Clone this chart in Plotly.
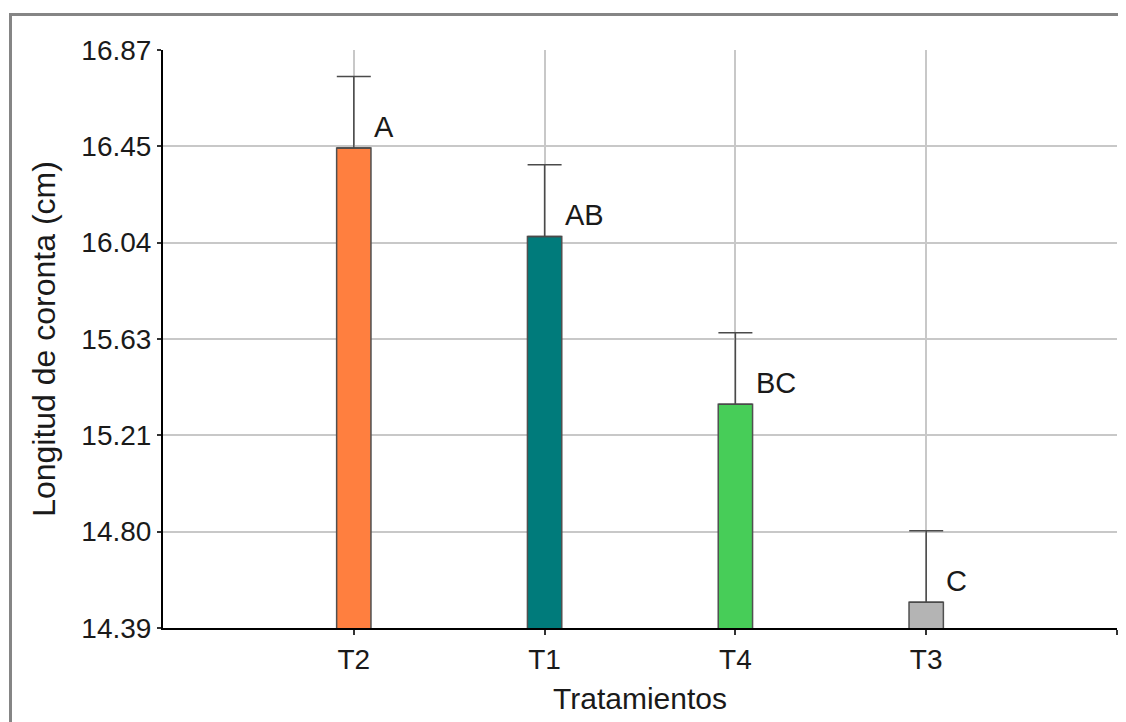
import plotly.graph_objects as go

categories = ["T2", "T1", "T4", "T3"]
means = [16.45, 16.07, 15.35, 14.50]
errors = [0.306, 0.308, 0.307, 0.307]
letters = ["A", "AB", "BC", "C"]
colors = ["#FF7F3F", "#007B7B", "#47CD58", "#B4B4B4"]
y_tick_labels = ["14.39", "14.80", "15.21", "15.63", "16.04", "16.45", "16.87"]
y_min, y_max = 14.39, 16.87

FONT = "Liberation Sans, Arial, sans-serif"
bar_w = 0.18

positions = list(range(1, len(categories) + 1))
n_ticks = len(y_tick_labels)
y_tickvals = [y_min + i * (y_max - y_min) / (n_ticks - 1) for i in range(n_ticks)]

# page body has an 8px margin; plot area should land at x 163..1117, y 50..628
PW, PH = 954, 578

fig = go.Figure()
fig.add_trace(go.Bar(
    x=positions, y=means, width=bar_w,
    marker=dict(color=colors, line=dict(color="#505050", width=1.5)),
    error_y=dict(type="data", array=errors, arrayminus=[0] * len(errors),
                 symmetric=False, color="#4a4a4a", thickness=1.5, width=17),
    showlegend=False,
))

for p, m, l in zip(positions, means, letters):
    fig.add_annotation(x=p + bar_w / 2, y=m, text=l, showarrow=False,
                       xanchor="left", yanchor="middle", xshift=1, yshift=21,
                       font=dict(family=FONT, size=29, color="#1a1a1a"))

fig.update_layout(
    width=1118, height=714,
    paper_bgcolor="white", plot_bgcolor="white",
    margin=dict(l=155, r=9, t=42, b=94),
    font=dict(family=FONT, size=28, color="#1a1a1a"),
    xaxis=dict(
        range=[0, len(categories) + 1],
        tickvals=positions + [len(categories) + 1],
        ticktext=categories + [""],
        showgrid=True, gridcolor="#c8c8c8", gridwidth=2,
        showline=True, linecolor="black", linewidth=2,
        ticks="outside", ticklen=5, tickwidth=2, tickcolor="#333",
        zeroline=False,
        title=dict(text="Tratamientos", font=dict(size=30), standoff=14),
    ),
    yaxis=dict(
        range=[y_min, y_max],
        tickvals=y_tickvals, ticktext=y_tick_labels,
        showgrid=True, gridcolor="#c8c8c8", gridwidth=2,
        showline=True, linecolor="black", linewidth=2,
        ticks="outside", ticklen=4, tickwidth=2, tickcolor="#333",
        zeroline=False,
        title=dict(text="Longitud de coronta (cm)", font=dict(size=32), standoff=16),
    ),
    shapes=[
        dict(type="line", xref="paper", yref="paper",
             x0=(10.5 - 163) / PW, x1=(10.5 - 163) / PW,
             y0=(628 - 740) / PH, y1=(628 - 14.5) / PH,
             line=dict(color="#858585", width=3)),
        dict(type="line", xref="paper", yref="paper",
             x0=(9 - 163) / PW, x1=(1140 - 163) / PW,
             y0=(628 - 14.5) / PH, y1=(628 - 14.5) / PH,
             line=dict(color="#858585", width=3)),
    ],
)

fig.write_html("out.html")
